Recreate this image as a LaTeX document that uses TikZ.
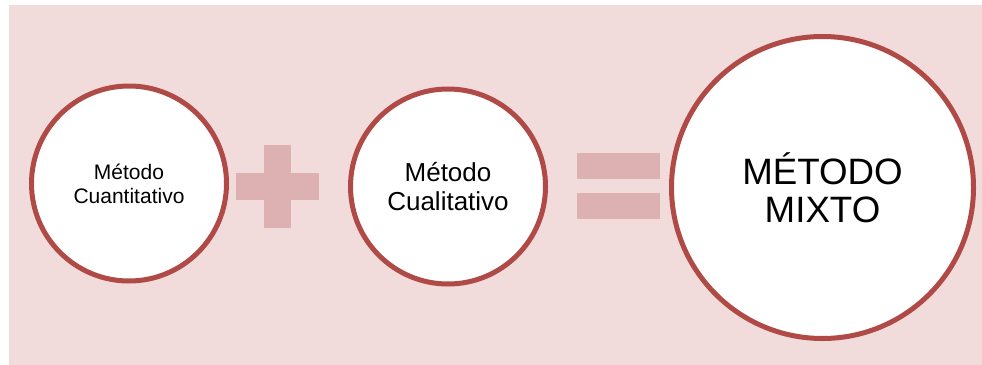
\documentclass[tikz,border=0pt]{standalone}
\usepackage{fontspec}
\setmainfont{Liberation Sans}
\definecolor{bgpink}{HTML}{F2DCDB}
\definecolor{ringred}{HTML}{B04A47}
\definecolor{symfill}{HTML}{DDB1B1}
\begin{document}
\begin{tikzpicture}[x=1pt,y=-1pt,
  ring/.style={circle, draw=ringred, line width=5pt, fill=white, align=center, inner sep=0pt, text=black},
  symbar/.style={rectangle, fill=symfill, draw=none, inner sep=0pt, outer sep=0pt}]
\useasboundingbox (0,0) rectangle (982,364);
\fill[bgpink] (9,5) rectangle (995,375);
\node[ring, minimum size=195pt, font=\fontsize{21}{24}\selectfont] (c1) at (129,183.5) {Método\\Cuantitativo};
\node[ring, minimum size=195pt, font=\fontsize{26}{28.5}\selectfont] (c2) at (448,186.5) {Método\\Cualitativo};
\node[ring, minimum size=302pt, font=\fontsize{36.7}{38}\selectfont] (c3) at (822.5,187.5) {MÉTODO\\MIXTO};
\node[symbar, minimum width=83pt, minimum height=27pt] (plush) at (277.5,186.5) {};
\node[symbar, minimum width=27pt, minimum height=83pt] (plusv) at (277.5,186.5) {};
\node[symbar, minimum width=83pt, minimum height=26pt] (eqtop) at (618.5,166) {};
\node[symbar, minimum width=83pt, minimum height=26pt] (eqbot) at (618.5,206) {};
\end{tikzpicture}
\end{document}
